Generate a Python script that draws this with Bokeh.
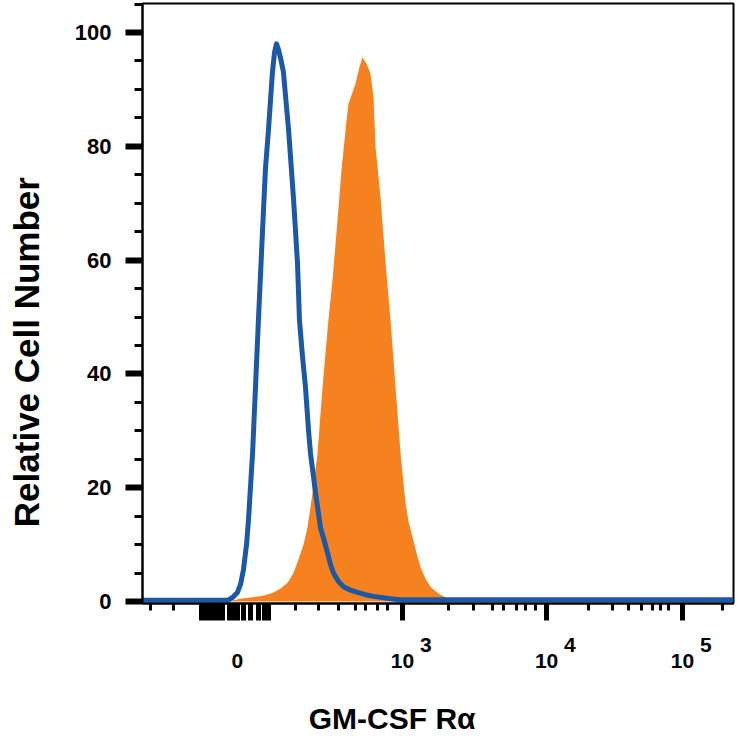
from bokeh.plotting import figure
from bokeh.models import FixedTicker, SingleIntervalTicker, CustomJSTickFormatter
from bokeh.embed import file_html
from bokeh.resources import INLINE

# x is in display units of the biexponential axis (10^3 -> 3, 10^5 -> 5)
# isotype control (blue outline)
iso_x = [1.143, 1.75, 1.786, 1.821, 1.843, 1.864, 1.886, 1.9, 1.914, 1.929,
         1.95, 1.971, 2.0, 2.021, 2.043, 2.057, 2.071, 2.086, 2.1, 2.114,
         2.129, 2.15, 2.164, 2.186, 2.221, 2.25, 2.264, 2.286, 2.307, 2.329,
         2.343, 2.364, 2.379, 2.4, 2.414, 2.443, 2.464, 2.486, 2.507, 2.543,
         2.579, 2.629, 2.679, 2.736, 2.793, 2.914, 2.986, 5.364]
iso_y = [0.2, 0.2, 0.7, 1.6, 3, 5.6, 10, 14.4, 20, 26,
         37.7, 49.5, 65, 76, 83, 88, 93, 96.5, 98, 97,
         95.5, 93, 89, 83, 71, 59.5, 49.5, 43, 37.7, 30,
         26, 22, 19, 15.5, 13, 10.5, 8.6, 6.5, 5, 3.5,
         2.6, 2, 1.6, 1.2, 0.9, 0.5, 0.3, 0.3]

# GM-CSF R alpha stained cells (orange filled)
stain_x = [1.143, 1.75, 1.843, 2.007, 2.079, 2.129, 2.179, 2.221, 2.257, 2.293,
           2.321, 2.357, 2.393, 2.429, 2.471, 2.5, 2.529, 2.564, 2.6, 2.614,
           2.643, 2.664, 2.693, 2.714, 2.743, 2.771, 2.793, 2.807, 2.843, 2.879,
           2.914, 2.95, 2.986, 3.021, 3.043, 3.071, 3.1, 3.129, 3.164, 3.2,
           3.236, 3.271, 3.329, 3.379, 3.45, 5.364]
stain_y = [0, 0, 0.5, 1, 1.6, 2.3, 3.3, 5, 7.4, 10,
           13, 19, 26, 37.7, 49.5, 56.5, 65, 75.8, 84.5, 87.5,
           89.5, 91, 94, 95.6, 94.5, 92.8, 88.6, 80, 71, 59.5,
           49.5, 37.7, 26, 17.4, 14, 11.4, 8.5, 6, 4, 2.6,
           1.8, 1.2, 0.5, 0.2, 0, 0]

# tick marks of the x axis; labels are two lines (exponent above)
NB = "\u00a0"
label_pos = [1.821, 3.0, 4.029, 5.0]
label_text = [NB + "\n0",
              NB * 8 + "3\n" + NB * 3 + "10" + NB * 3,
              NB * 8 + "4\n" + NB * 3 + "10" + NB * 3,
              NB * 8 + "5\n" + NB * 3 + "10" + NB * 3]
long_ticks = [1.564, 1.593, 1.621, 1.65, 1.686, 1.714, 1.764, 1.793, 1.821, 1.864,
              1.914, 1.971, 2.014, 2.043, 3.0, 4.029, 5.0]
short_ticks = [1.2, 1.364, 2.236, 2.4, 2.543, 2.664, 2.736, 2.821, 2.893, 3.329, 3.507,
               3.643, 3.721, 3.814, 3.879, 3.95, 4.329, 4.5, 4.614, 4.707, 4.786,
               4.843, 4.9, 5.286]

FONT = "Liberation Sans"

p = figure(width=735, height=737, x_range=(1.143, 5.364), y_range=(-0.35, 105.1),
           output_backend="svg", toolbar_location=None,
           min_border_left=142, min_border_right=2, min_border_top=3,
           min_border_bottom=134)
p.grid.visible = False
p.outline_line_color = "black"
p.outline_line_width = 2

# histograms
p.varea(x=stain_x, y1=0, y2=stain_y, fill_color="#f5821f")
p.line(iso_x, iso_y, line_color="#1c58a8", line_width=5, line_join="round")

# y axis
p.yaxis.ticker = SingleIntervalTicker(interval=20, num_minor_ticks=4)
p.yaxis.axis_line_width = 2
p.yaxis.major_tick_in = 0
p.yaxis.major_tick_out = 17
p.yaxis.major_tick_line_width = 6
p.yaxis.minor_tick_in = 0
p.yaxis.minor_tick_out = 8
p.yaxis.minor_tick_line_width = 3
p.yaxis.major_label_standoff = 14
p.yaxis.major_label_text_font = FONT
p.yaxis.major_label_text_font_size = "22px"
p.yaxis.major_label_text_font_style = "bold"
p.yaxis.major_label_text_color = "black"
# trailing spaces move the title down the axis, as in the original figure
p.yaxis.axis_label = "Relative Cell Number" + NB * 10
p.yaxis.axis_label_standoff = 26
p.yaxis.axis_label_text_font = FONT
p.yaxis.axis_label_text_font_size = "35px"
p.yaxis.axis_label_text_font_style = "bold"
p.yaxis.axis_label_text_color = "black"

# x axis
p.xaxis.ticker = FixedTicker(ticks=long_ticks, minor_ticks=short_ticks)
p.xaxis.formatter = CustomJSTickFormatter(args=dict(pos=label_pos, txt=label_text), code="""
    for (let i = 0; i < pos.length; i++) {
        if (Math.abs(tick - pos[i]) < 1e-6) { return txt[i] }
    }
    return ""
""")
p.xaxis.axis_line_width = 2
p.xaxis.major_tick_in = 0
p.xaxis.major_tick_out = 17
p.xaxis.major_tick_line_width = 5
p.xaxis.minor_tick_in = 0
p.xaxis.minor_tick_out = 7
p.xaxis.minor_tick_line_width = 3
p.xaxis.major_label_standoff = 12
p.xaxis.major_label_text_font = FONT
p.xaxis.major_label_text_font_size = "21px"
p.xaxis.major_label_text_font_style = "bold"
p.xaxis.major_label_text_line_height = 0.7
p.xaxis.major_label_text_color = "black"
p.xaxis.axis_label = "GM-CSF Rα" + NB * 11
p.xaxis.axis_label_standoff = 27
p.xaxis.axis_label_text_font = FONT
p.xaxis.axis_label_text_font_size = "30px"
p.xaxis.axis_label_text_font_style = "bold"
p.xaxis.axis_label_text_color = "black"

open("out.html", "w").write(file_html(p, INLINE))
